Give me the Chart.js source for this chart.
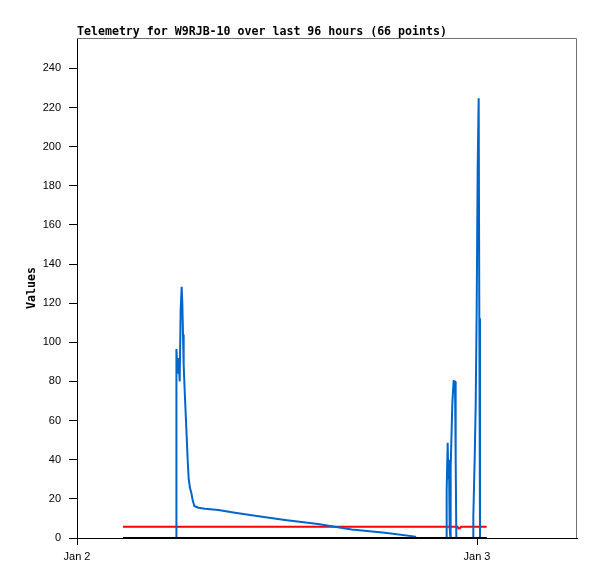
<!DOCTYPE html>
<html>
<head>
<meta charset="utf-8">
<script src="https://cdn.jsdelivr.net/npm/chart.js@4.4.1/dist/chart.umd.min.js"></script>
<style>
  html, body { margin: 0; padding: 0; background: #fff; }
  #wrap { width: 597px; height: 579px; position: relative; }
</style>
</head>
<body>
<div id="wrap"><canvas id="telemetrychart"></canvas></div>
<script>
// times are hours after Jan 2 00:00
let blueHours = [2.76, 5.94, 5.95, 5.98, 6.04, 6.10, 6.16, 6.22, 6.28, 6.32, 6.36, 6.40, 6.48, 6.56, 6.64, 6.70,
  6.78, 6.86, 6.94, 7.04, 7.28, 7.68, 8.48, 9.48, 10.48, 12.48, 14.46, 16.48, 18.48, 20.28, 20.32,
  22.17, 22.18, 22.24, 22.28, 22.32, 22.36, 22.40, 22.42, 22.52, 22.60, 22.68, 22.72, 22.76,
  23.77, 23.78, 23.86, 23.92, 23.98, 24.04, 24.10, 24.14, 24.18, 24.58];
let blueValues = [0, 0, 48, 96.6, 84, 92, 80, 116.5, 128.4, 120, 104, 88.4, 71.4, 56, 40, 30.5,
  25.5, 23, 19.4, 16.4, 15.5, 15, 14.3, 12.9, 11.6, 9.2, 7.2, 4.4, 2.7, 0.7, 0,
  0, 24.5, 48.7, 30, 40, 5, 0, 36, 68.8, 80.2, 80, 40.7, 0,
  0, 11, 40.2, 67.1, 116, 188.6, 224.7, 112.3, 0, 0];

let redHours = [2.76, 22.83, 22.89, 22.98, 23.04, 24.58];
let redValues = [5.8, 5.8, 4.8, 5.0, 5.8, 5.8];

let blackHours = [2.76, 24.58];
let blackValues = [0, 0];

let yTicks = [0, 20, 40, 60, 80, 100, 120, 140, 160, 180, 200, 220, 240];
let xTicks = [0, 24];
let xTickLabels = ["Jan 2", "Jan 3"];

let chartTitle = "Telemetry for W9RJB-10 over last 96 hours (66 points)";

function toPoints(hours, values) {
  return hours.map((h, i) => ({ x: h, y: values[i] }));
}

const framePlugin = {
  id: 'frame',
  beforeDatasetsDraw(chart) {
    const { ctx, chartArea } = chart;
    ctx.save();
    ctx.strokeStyle = '#707070';
    ctx.lineWidth = 1;
    ctx.beginPath();
    ctx.moveTo(chartArea.left, chartArea.top + 0.5);
    ctx.lineTo(chartArea.right - 0.5, chartArea.top + 0.5);
    ctx.lineTo(chartArea.right - 0.5, chartArea.bottom);
    ctx.stroke();
    ctx.restore();
  },
  afterDraw(chart) {
    const { ctx, chartArea } = chart;
    ctx.save();
    ctx.fillStyle = '#000';
    ctx.font = 'bold 11.6px "DejaVu Sans Mono"';
    ctx.textAlign = 'left';
    ctx.textBaseline = 'alphabetic';
    ctx.fillText(chartTitle, chartArea.left, 35);
    ctx.restore();
  }
};

var ctx = document.getElementById("telemetrychart").getContext("2d");
var myChart = new Chart(ctx, {
  type: "line",
  data: {
    datasets: [
      {
        label: "black",
        data: toPoints(blackHours, blackValues),
        borderColor: "#000000",
        borderWidth: 2,
        order: 0,
      },
      {
        label: "blue",
        data: toPoints(blueHours, blueValues),
        borderColor: "#0066cc",
        borderWidth: 2,
        order: 1,
      },
      {
        label: "red",
        data: toPoints(redHours, redValues),
        borderColor: "#ff0000",
        borderWidth: 2,
        order: 2,
      },
    ],
  },
  options: {
    animation: false,
    responsive: true,
    maintainAspectRatio: false,
    elements: {
      point: { radius: 0 },
      line: { tension: 0, borderCapStyle: 'butt', borderJoinStyle: 'miter' },
    },
    layout: { padding: { top: 38, right: 20, bottom: 0, left: 0 } },
    plugins: {
      legend: { display: false },
      title: { display: false },
      tooltip: { enabled: false },
    },
    scales: {
      x: {
        type: "linear",
        min: 0,
        max: 30,
        offset: false,
        afterBuildTicks: (scale) => { scale.ticks = xTicks.map(v => ({ value: v })); },
        afterFit: (scale) => { scale.height = 41; },
        border: { color: "#000", width: 1 },
        grid: { drawOnChartArea: false, drawTicks: true, tickLength: 7, color: "#000" },
        ticks: {
          autoSkip: false,
          maxRotation: 0,
          padding: 5,
          color: "#000",
          font: { family: '"Liberation Sans"', size: 11 },
          callback: (value) => {
            let i = xTicks.indexOf(value);
            return i >= 0 ? xTickLabels[i] : "";
          },
        },
      },
      y: {
        min: 0,
        max: 255.5,
        afterBuildTicks: (scale) => { scale.ticks = yTicks.map(v => ({ value: v })); },
        afterFit: (scale) => { scale.width = 77; },
        border: { color: "#000", width: 1 },
        grid: { drawOnChartArea: false, drawTicks: true, tickLength: 8, color: "#000" },
        ticks: {
          padding: 8,
          color: "#000",
          font: { family: '"Liberation Sans"', size: 11 },
        },
        title: {
          display: true,
          text: "Values",
          color: "#000",
          padding: { top: 25, bottom: 0 },
          font: { family: '"DejaVu Sans Mono"', size: 11.6, weight: "bold" },
        },
      },
    },
  },
  plugins: [framePlugin],
});
</script>
</body>
</html>
